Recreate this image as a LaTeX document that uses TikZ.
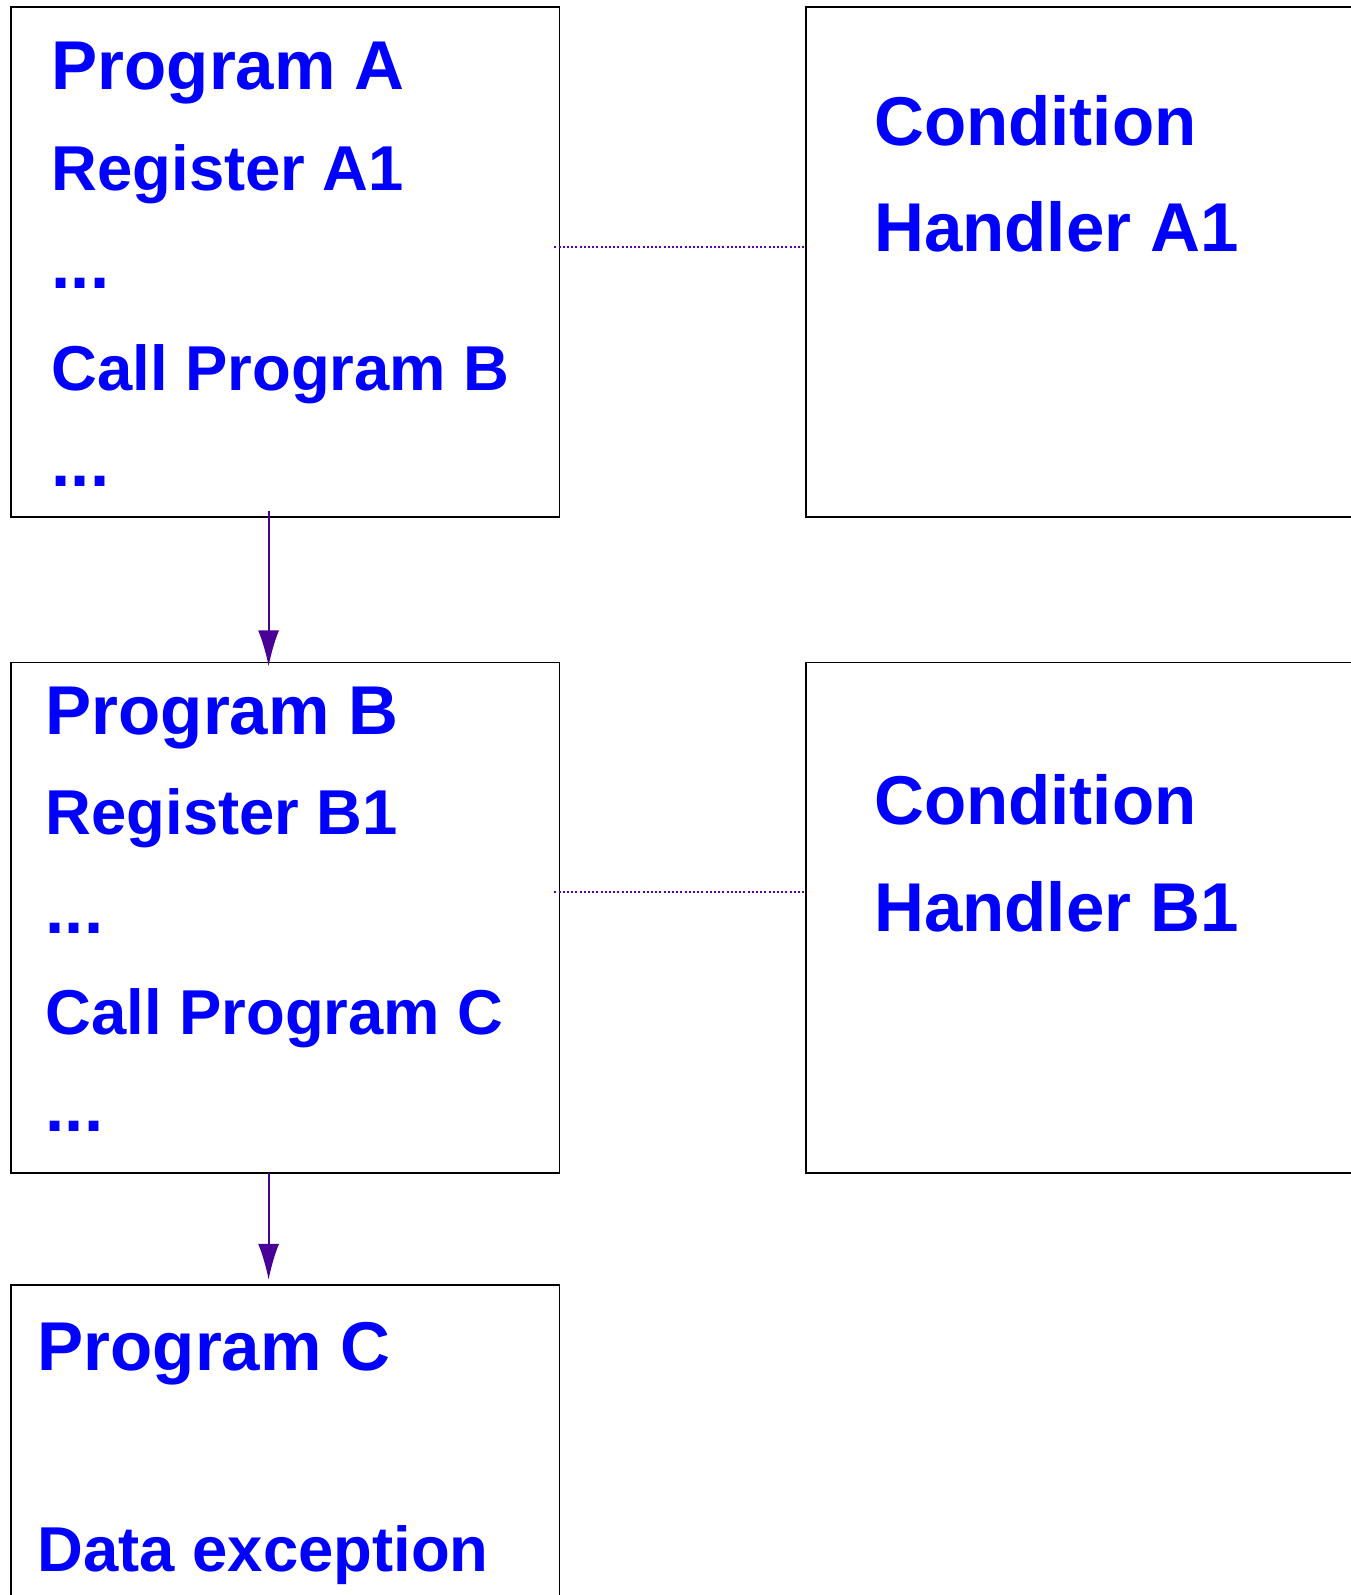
\documentclass[tikz,border=0pt]{standalone}
\usepackage{fontspec}
\setmainfont{Liberation Sans}
\usetikzlibrary{arrows.meta}
\definecolor{txtblue}{RGB}{0,0,255}
\definecolor{callc}{RGB}{72,0,150}
\definecolor{linkc}{RGB}{90,0,180}
\begin{document}
\begin{tikzpicture}[x=1pt,y=-1pt,
  box/.style={draw=black,line width=1.6pt,inner sep=0pt},
  big/.style={anchor=base west,inner sep=0pt,text=txtblue,font=\fontsize{69.1}{80}\selectfont\bfseries},
  small/.style={anchor=base west,inner sep=0pt,text=txtblue,font=\fontsize{63.4}{74}\selectfont\bfseries},
  call/.style={draw=callc,line width=1.8pt,-{Latex[length=36pt,width=21pt]}},
  link/.style={draw=linkc,line width=1.8pt,dash pattern=on 2pt off 2.2pt}]
\useasboundingbox (0,0) rectangle (1351,1595);
\clip (0,0) rectangle (1351,1595);
% program boxes
\draw[box] (11.2,7.1) rectangle (559.5,516.8);
\node[inner sep=0pt] (pa) at (285.4,262) {};
\draw[box] (11.2,662.3) rectangle (559.5,1173);
\node[inner sep=0pt] (pb) at (285.4,917.6) {};
\draw[box] (11.2,1284.9) rectangle (559.5,1620);
\node[inner sep=0pt] (pc) at (285.4,1450) {};
% condition handler boxes
\draw[box] (805.7,7.1) rectangle (1380,516.8);
\node[inner sep=0pt] (ha) at (1090,262) {};
\draw[box] (805.7,662.3) rectangle (1380,1173);
\node[inner sep=0pt] (hb) at (1090,917.6) {};
% Program A
\node[big]   (a1) at (51.5,89.5)  {Program A};
\node[small] (a2) at (51.5,190)   {Register A1};
\node[big]   (a3) at (51.5,288)   {...};
\node[small] (a4) at (51.5,390)   {Call Program B};
\node[big]   (a5) at (51.5,486)   {...};
% Program B
\node[big]   (b1) at (45.5,734.5) {Program B};
\node[small] (b2) at (45.5,834)   {Register B1};
\node[big]   (b3) at (45.5,933)   {...};
\node[small] (b4) at (45.5,1034.6){Call Program C};
\node[big]   (b5) at (45.5,1131)  {...};
% Program C
\node[big]   (c1) at (37.5,1370)  {Program C};
\node[small] (c2) at (37.5,1571)  {Data exception};
% handlers
\node[big] (h1) at (874,145.5) {Condition};
\node[big] (h2) at (874,251)   {Handler A1};
\node[big] (h3) at (874,824)   {Condition};
\node[big] (h4) at (874,931)   {Handler B1};
% calls
\coordinate (ca) at (268.6,510.7);
\coordinate (cb) at (268.6,666.3);
\coordinate (cc) at (268.6,1173);
\coordinate (cd) at (268.6,1279.8);
\draw[call] (ca) -- (cb);
\draw[call] (cc) -- (cd);
% handler registrations
\coordinate (la) at (554.4,247.2);
\coordinate (lb) at (803.7,247.2);
\coordinate (lc) at (554.4,892.2);
\coordinate (ld) at (803.7,892.2);
\draw[link] (la) -- (lb);
\draw[link] (lc) -- (ld);
\end{tikzpicture}
\end{document}
